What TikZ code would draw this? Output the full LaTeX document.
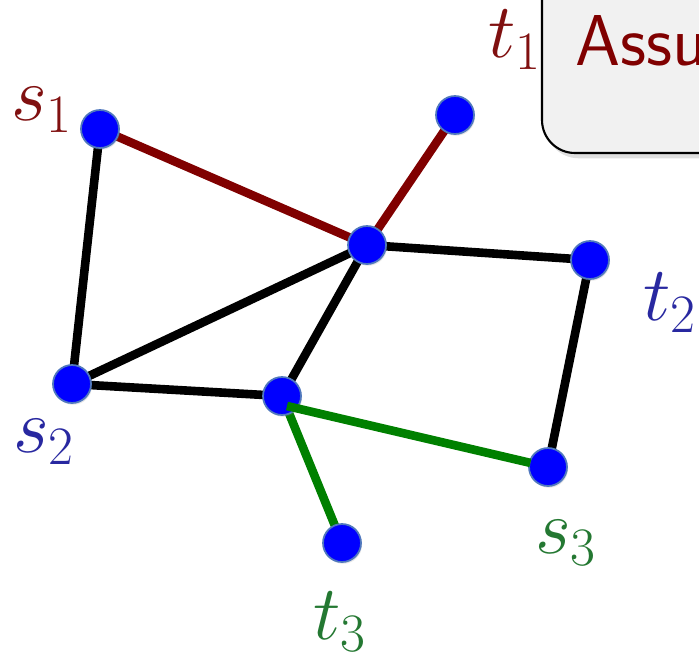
\RequirePackage{fix-cm}
\documentclass[tikz,border=0pt]{standalone}
\usepackage{tikz}
\definecolor{pathred}{RGB}{128,0,0}
\definecolor{pathgreen}{RGB}{0,128,0}
\definecolor{lblred}{RGB}{128,16,16}
\definecolor{lblblue}{RGB}{40,40,160}
\definecolor{lblgreen}{RGB}{36,120,50}
\definecolor{vtxrim}{RGB}{80,120,190}
\definecolor{boxgray}{RGB}{241,241,241}
\usetikzlibrary{shadows,backgrounds}

\begin{document}
\begin{tikzpicture}[x=0.02cm,y=-0.02cm,
    vertex/.style={circle,draw=vtxrim,line width=1pt,fill=blue,
      minimum size=0.76cm,inner sep=0pt,
      drop shadow={opacity=0.2,shadow xshift=0.6pt,shadow yshift=-1pt}},
    edge/.style={line width=4.9pt},
    lbl/.style={inner sep=0pt,font=\fontsize{44}{48}\selectfont}]
  \useasboundingbox (0,0) rectangle (699,660);
  \clip (0,0) rectangle (699,660);

  % vertices
  \node[vertex] (s1) at (100,129) {};
  \node[vertex] (t1) at (455,115) {};
  \node[vertex] (c)  at (367,245) {};
  \node[vertex] (t2) at (590,260) {};
  \node[vertex] (s2) at (72,384) {};
  \node[vertex] (m)  at (282,396) {};
  \node[vertex] (s3) at (548,467) {};
  \node[vertex] (t3) at (342,543) {};
  \coordinate (mg) at (287,406);

  % edges under the vertices
  \begin{scope}[on background layer]
    \draw[edge,pathred] (s1.center) -- (c.center) -- (t1.center);
    \draw[edge] (s1.center) -- (s2.center) -- (c.center) -- (t2.center) -- (s3.center);
    \draw[edge] (c.center) -- (m.center) -- (s2.center);
    \draw[edge,pathgreen] (m.center) -- (t3.center);
  \end{scope}
  \draw[edge,pathgreen,shorten >=-1pt] (mg) -- (s3);

  % labels
  \node[lbl,text=lblred]   (ls1) at (42,110)  {$s_1$};
  \node[lbl,text=lblred]   (lt1) at (515,40)  {$t_1$};
  \node[lbl,text=lblblue]  (lt2) at (670,303) {$t_2$};
  \node[lbl,text=lblblue]  (ls2) at (44,442)  {$s_2$};
  \node[lbl,text=lblgreen] (ls3) at (566,543) {$s_3$};
  \node[lbl,text=lblgreen] (lt3) at (340,622) {$t_3$};

  % the box on the right
  \filldraw[fill=boxgray,draw=black,line width=1.2pt,rounded corners=0.66cm,
    drop shadow={opacity=0.25,shadow xshift=2pt,shadow yshift=-3pt}]
    (542,-60) rectangle (780,153);
  \node[anchor=base west,inner sep=0pt,text=pathred,
    font=\sffamily\fontsize{41}{46}\selectfont] (assu) at (575,65) {Assu};
\end{tikzpicture}
\end{document}
